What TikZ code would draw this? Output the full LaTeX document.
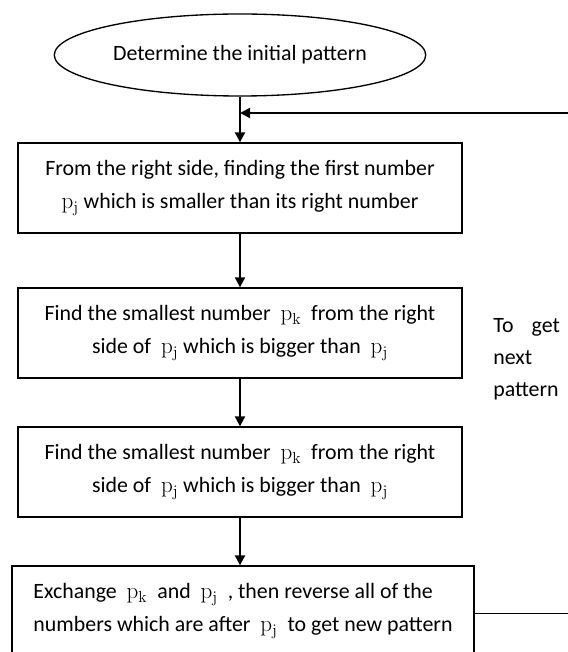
\documentclass[tikz,border=0pt]{standalone}
\usepackage{amsmath}
\usepackage[no-math]{fontspec}
\setmainfont{Carlito}
\usepackage{tikz}
\usetikzlibrary{shapes,arrows,arrows.meta}

\newcommand{\pj}{$\mathrm{p_j}$}
\newcommand{\pk}{$\mathrm{p_k}$}

\begin{document}
\begin{tikzpicture}[x=0.75pt, y=-0.75pt,
    txtfont/.style={font=\fontsize{16.4}{24.5}\selectfont},
    box/.style={draw, line width=1pt, rectangle, txtfont, align=center, minimum width=333pt, minimum height=67.5pt},
    flow/.style={line width=1.5pt, -{Triangle[length=7.5pt,width=7.5pt]}}]
\useasboundingbox (0,0) rectangle (567,652);
\node[draw, line width=1pt, ellipse, txtfont, minimum width=250pt, minimum height=61.5pt] (start) at (240,55) {Determine the initial pattern};
\node[box] (find) at (240,188) {From the right side, finding the first number\\ \pj{} which is smaller than its right number};
\node[box] (small1) at (240,333) {Find the smallest number ~\pk{} ~from the right\\ side of ~\pj{} which is bigger than ~\pj};
\node[box] (small2) at (240,472) {Find the smallest number ~\pk{} ~from the right\\ side of ~\pj{} which is bigger than ~\pj};
\node[box, minimum width=346.5pt, align=left] (swap) at (243,611) {Exchange ~\pk{} ~and ~\pj{} ~, then reverse all of the\\ numbers which are after ~\pj{} ~to get new pattern};
\node[anchor=west, align=left, inner sep=0pt, font=\fontsize{16.4}{24}\selectfont] (lbl) at (493,359) {\makebox[50pt][s]{To get}\\ next\\ pattern};
\coordinate (join) at (240,113);
\coordinate (back) at (580,613);
% main flow
\draw[flow] (start) -- (find);
\draw[flow] (find) -- (small1);
\draw[flow] (small1) -- (small2);
\draw[flow] (small2.south) -- (small2.south |- swap.north);
% loop back
\draw[thin] (swap.east |- back) -- (back);
\draw[flow] (back) |- (join);
\end{tikzpicture}
\end{document}
